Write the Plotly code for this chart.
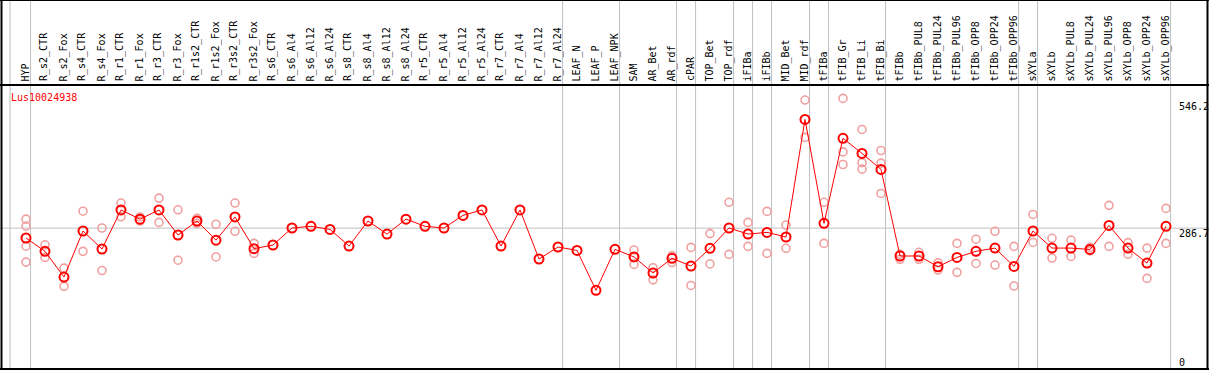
import plotly.graph_objects as go

categories = ["HYP", "R_s2_CTR", "R_s2_Fox", "R_s4_CTR", "R_s4_Fox", "R_r1_CTR", "R_r1_Fox",
              "R_r3_CTR", "R_r3_Fox", "R_r1s2_CTR", "R_r1s2_Fox", "R_r3s2_CTR", "R_r3s2_Fox",
              "R_s6_CTR", "R_s6_Al4", "R_s6_Al12", "R_s6_Al24", "R_s8_CTR", "R_s8_Al4",
              "R_s8_Al12", "R_s8_Al24", "R_r5_CTR", "R_r5_Al4", "R_r5_Al12", "R_r5_Al24",
              "R_r7_CTR", "R_r7_Al4", "R_r7_Al12", "R_r7_Al24", "LEAF_N", "LEAF_P", "LEAF_NPK",
              "SAM", "AR_Bet", "AR_rdf", "cPAR", "TOP_Bet", "TOP_rdf", "iFIBa", "iFIBb",
              "MID_Bet", "MID_rdf", "tFIBa", "tFIB_Gr", "tFIB_Li", "tFIB_Bi", "tFIBb",
              "tFIBb_PUL8", "tFIBb_PUL24", "tFIBb_PUL96", "tFIBb_OPP8", "tFIBb_OPP24",
              "tFIBb_OPP96", "sXYLa", "sXYLb", "sXYLb_PUL8", "sXYLb_PUL24", "sXYLb_PUL96",
              "sXYLb_OPP8", "sXYLb_OPP24", "sXYLb_OPP96"]

means = [265.6, 237, 182, 280.6, 242, 325.6, 306, 325.6, 272, 302, 261, 310.6, 242.7,
         250.6, 287, 290.6, 284, 248.4, 302, 274, 306, 290.6, 287, 314, 325.6,
         248.4, 325.6, 220.6, 246.3, 239, 153.5, 241.3,
         225, 190.6, 222, 205.6, 243.5, 287, 274, 277.6,
         267.7, 519.6, 297, 479, 446.8, 412.5, 227,
         227, 204, 224, 237, 244, 204.7, 280.6, 244,
         244, 241, 292.5, 244, 212, 290.6]

replicates = [
    [306, 291, 248, 214], [251, 224], [201, 162], [323, 237], [287, 196],
    [340.5, 311], [310.6, 302], [351, 299], [326, 218], [307.7, 297],
    [295, 225], [340.5, 280], [254, 232.7],
    [], [], [], [], [], [], [], [], [], [], [], [], [], [], [], [], [], [], [],
    [240, 226, 209], [202, 176], [227.7, 213], [245.5, 164], [275, 210], [342, 230.5],
    [299, 247.6], [322.5, 232.6], [293.4, 243.5], [561, 481], [342, 254],
    [564.6, 450, 423], [498, 426.8, 413], [453, 426, 361], [231, 220],
    [235, 220], [212.7, 197], [254, 192], [263, 211], [280, 207.7], [247.6, 162.8],
    [316, 256], [265, 222.7], [261, 226], [245.5, 238], [335.5, 247.6], [255.6, 231],
    [244, 179], [329, 254],
]

group_starts = [1, 29, 32, 35, 36, 38, 39, 40, 42, 43, 46, 53, 54, 61]
y_ticks = [546.2, 286.7, 0]
title_text = "Lus10024938"

# pixel geometry helpers (figure 1209 x 370, plot area = whole figure)
W, H = 1209, 370
X0, DX = 26.0, 19.0           # pixel of first category, spacing
Y0, DY = 362.0, 0.4669        # pixel of value 0, px per unit
xr = [(0 - X0) / DX, (W - X0) / DX]
yr = [(Y0 - H) / DY, Y0 / DY]


def yval(py):
    return (Y0 - py) / DY


def xval(px):
    return (px - X0) / DX


xs = list(range(len(categories)))
rx, ry = [], []
for i, reps in enumerate(replicates):
    for v in reps:
        rx.append(i)
        ry.append(v)

fig = go.Figure()
fig.add_trace(go.Scatter(x=rx, y=ry, mode="markers",
                         marker=dict(symbol="circle-open", size=8, color="#f0a0a0",
                                     line=dict(width=1.6, color="#f0a0a0")),
                         hoverinfo="skip"))
fig.add_trace(go.Scatter(x=xs, y=means, mode="lines+markers",
                         line=dict(color="#ff0000", width=1),
                         marker=dict(symbol="circle-open", size=9, color="#ff0000",
                                     line=dict(width=2, color="#ff0000"))))

shapes = []
gray = "#c0c0c0"
# vertical group separators
for g in [-0.84] + [s - 0.76 for s in group_starts]:
    shapes.append(dict(type="line", xref="x", yref="paper", x0=g, x1=g, y0=0, y1=1,
                       line=dict(color=gray, width=1), layer="below"))
# reference line
shapes.append(dict(type="line", xref="paper", yref="y", x0=0, x1=1, y0=286.7, y1=286.7,
                   line=dict(color=gray, width=1), layer="below"))
# black frame
blk = dict(color="black", width=2)
shapes.append(dict(type="line", xref="paper", yref="paper", x0=0, x1=1, y0=1, y1=1, line=blk))
shapes.append(dict(type="line", xref="paper", yref="paper", x0=0, x1=1,
                   y0=1 - 85 / H, y1=1 - 85 / H, line=blk))
shapes.append(dict(type="line", xref="paper", yref="paper", x0=0, x1=1,
                   y0=1 / H, y1=1 / H, line=blk))
shapes.append(dict(type="line", xref="paper", yref="paper", x0=1.5 / W, x1=1.5 / W,
                   y0=0, y1=1, line=blk))
shapes.append(dict(type="line", xref="paper", yref="paper", x0=1 - 1.5 / W, x1=1 - 1.5 / W,
                   y0=0, y1=1, line=blk))

font = dict(family="DejaVu Sans Mono", size=10, color="black")
ann = []
for i, c in enumerate(categories):
    ann.append(dict(x=i, y=yval(83.5), xref="x", yref="y", text=c, textangle=-90,
                    showarrow=False, xanchor="center", yanchor="bottom", xshift=-1,
                    font=font))
for t in y_ticks:
    shift = -5 if t == 286.7 else 0
    ann.append(dict(x=xval(1177), y=t, xref="x", yref="y", text=f"{t:g}",
                    showarrow=False, xanchor="left", yanchor="middle", yshift=shift,
                    font=font))
ann.append(dict(x=9 / W, y=1 - 97 / H, xref="paper", yref="paper", text=title_text,
                showarrow=False, xanchor="left", yanchor="middle",
                font=dict(family="DejaVu Sans Mono", size=10, color="#ff0000")))

fig.update_layout(
    width=W, height=H, autosize=False,
    margin=dict(l=0, r=0, t=0, b=0, pad=0),
    paper_bgcolor="white", plot_bgcolor="white",
    showlegend=False,
    xaxis=dict(range=xr, visible=False, fixedrange=True),
    yaxis=dict(range=yr, visible=False, fixedrange=True),
    shapes=shapes, annotations=ann,
)

fig.write_html("out.html", config={"displayModeBar": False},
               post_script="document.body.style.margin='0';"
                           "document.body.style.overflow='hidden';")
